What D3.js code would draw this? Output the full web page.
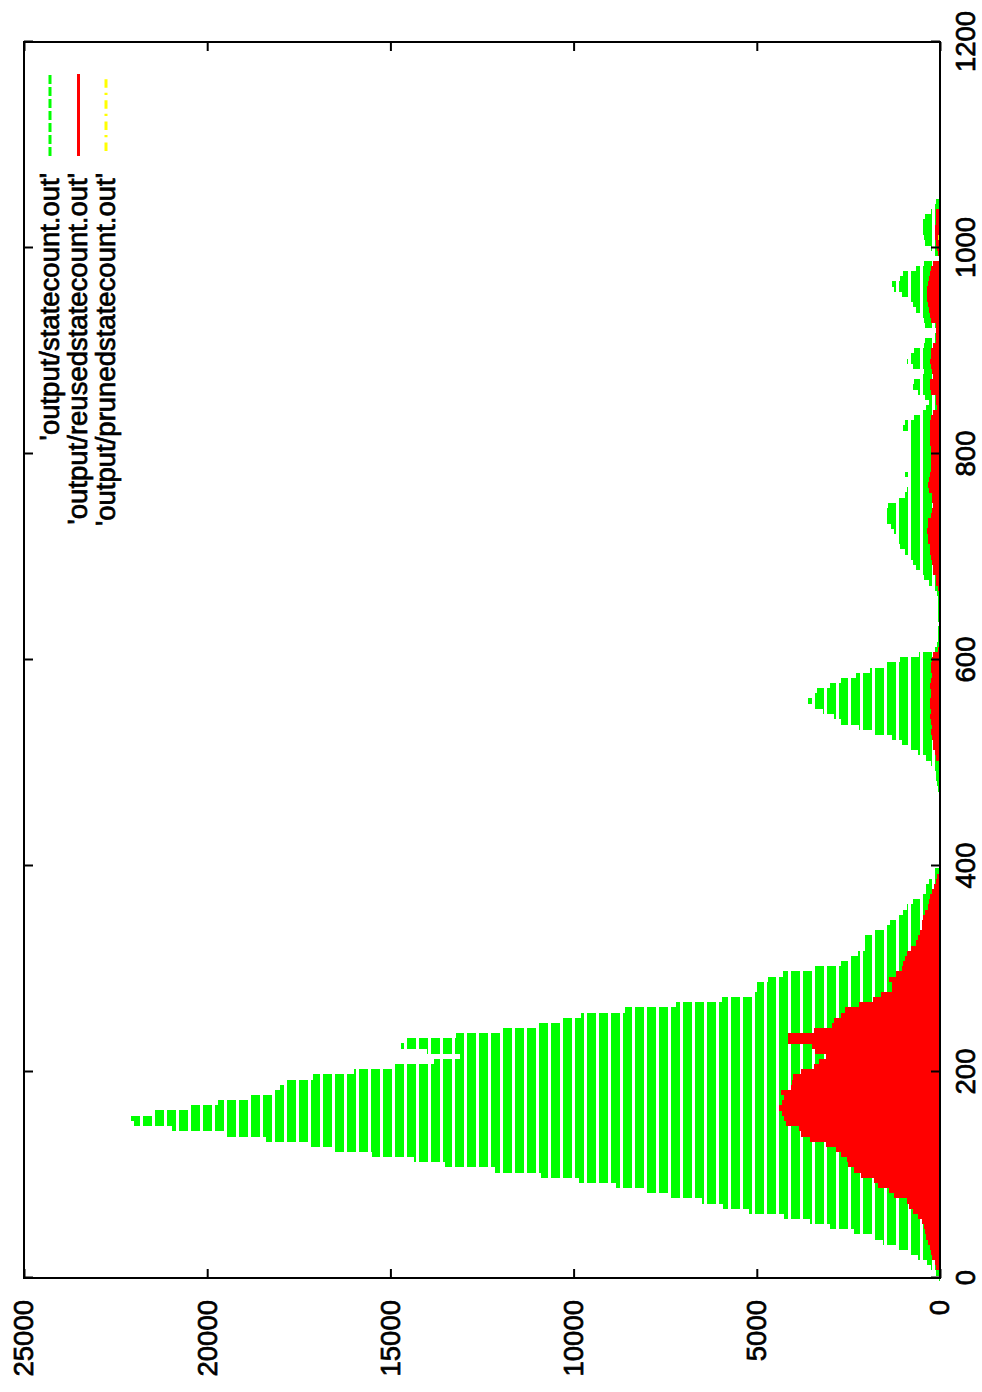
<!DOCTYPE html>
<html>
<head>
<meta charset="utf-8">
<script src="https://cdnjs.cloudflare.com/ajax/libs/d3/7.8.5/d3.min.js"></script>
<style>
body { margin: 0; background: #ffffff; }
svg text { font-family: "Liberation Sans", Arial, Helvetica, sans-serif; }
</style>
</head>
<body>
<svg id="chart" width="982" height="1392"></svg>
<script>

// one impulse every 5 steps
var step = 5;

var xValues = d3.range(0, 1050, step);

var stateCount = [
    20, 120, 250, 360, 600, 850, 1150, 1550, 1850, 2350,
    3000, 3550, 4250, 5200, 5930, 6500, 7400, 8000, 8850, 9850,
    10900, 12150, 13500, 14350, 15500, 16500, 17250, 18400, 19500, 20950,
    22000, 22100, 21500, 20500, 19700, 18900, 18200, 18000, 17900, 17100,
    16000, 14900, 13800, 13100, 14000, 14700, 14600, 13200, 12000, 10950,
    10350, 9800, 8600, 7200, 5950, 5050, 5000, 4990, 4700, 4280,
    3500, 2700, 2450, 2250, 2050, 2050, 2050, 1800, 1500, 1360,
    1200, 1020, 900, 730, 500, 380, 380, 300, 150, 140,
    0,
    0, 0, 0, 0, 0, 0, 0, 0, 0, 0, 0, 0, 0,
    30, 60, 80, 100, 120, 160, 250, 380, 600, 850,
    1050, 1300, 1800, 2200, 2700, 2900, 3200, 3400, 3600, 3500,
    3350, 3000, 2700, 2300, 1900, 1500, 1100, 560, 200, 80,
    60, 50, 50, 0, 50, 50, 50, 50, 60, 80,
    150, 300, 450, 550, 650, 750, 850, 950, 1100, 1150,
    1200, 1250, 1350, 1450, 1500, 1480, 1420, 1200, 950, 900,
    850, 850, 950, 850, 850, 800, 800, 820, 850, 800,
    850, 1000, 950, 700, 500, 380, 300, 420, 600, 750,
    720, 500, 450, 750, 900, 800, 720, 450, 420, 150,
    100, 400, 450, 500, 650, 750, 850, 1050, 1250, 1300,
    1100, 1000, 650, 450, 0, 150, 250, 400, 450, 480,
    500, 480, 420, 250, 150, 100
];

var reusedCount = [
    0, 30, 100, 150, 220, 250, 280, 330, 380, 420,
    450, 480, 600, 750, 850, 900, 1250, 1400, 1700, 1800,
    2150, 2350, 2500, 2550, 2700, 2850, 3100, 3550, 3800, 3850,
    4200, 4250, 4300, 4400, 4300, 4250, 4350, 4070, 4050, 4000,
    3800, 3450, 3300, 3100, 3400, 3500, 4150, 4150, 3450, 2950,
    2900, 2700, 2600, 2200, 1830, 1600, 1300, 1300, 1400, 1200,
    1050, 1010, 960, 900, 780, 660, 600, 540, 500, 480,
    460, 400, 330, 300, 270, 220, 175, 120, 80, 30,
    0, 0, 0, 0, 0, 0, 0, 0, 0, 0, 0,
    0, 0, 0, 0, 0, 0, 0, 0, 0, 0,
    100, 150, 180, 200, 220, 240, 230, 250, 270, 250,
    260, 280, 250, 240, 260, 250, 230, 250, 240, 210,
    180, 50,
    20, 20, 20, 20, 20, 20, 20, 20, 20, 20, 20,
    60, 100, 100, 180, 200, 210, 250, 270, 280, 330,
    340, 350, 340, 330, 250, 220, 200, 230, 220, 300,
    320, 310, 260, 250, 240, 250, 250, 240, 260, 270,
    280, 270, 260, 250, 200, 80, 100, 120, 250, 280,
    270, 200, 230, 250, 260, 250, 240, 180, 100, 100,
    100, 120, 250, 280, 300, 330, 360, 360, 350, 330,
    300, 280, 250, 200, 0, 50, 80, 100, 150, 150,
    140, 120, 120, 100, 40, 0
];

var prunedX = [1010];
var prunedCount = [60];

var xTicks = [0, 200, 400, 600, 800, 1000, 1200];
var yTicks = [0, 5000, 10000, 15000, 20000, 25000];

var legendLabels = ["'output/statecount.out'", "'output/reusedstatecount.out'", "'output/prunedstatecount.out'"];
var seriesColors = ['#00ff00', '#ff0000', '#ffff00'];

var fontSize = 27.5;

var svg = d3.select('#chart');

svg.append('rect')
    .attr('width', 982)
    .attr('height', 1392)
    .attr('fill', '#ffffff');

// the plot is drawn in landscape and turned a quarter turn, like the printed page
var g = svg.append('g')
    .attr('transform', 'translate(0,1392) rotate(-90)');

var x = d3.scaleLinear().domain([0, 1200]).range([114, 1350]);
var y = d3.scaleLinear().domain([0, 25000]).range([940, 24]);

var barW = x(step) - x(0) + 0.4;

function drawImpulses(xs, values, color, dash, offset){

    var pts = values.map(function(d, i){ return [xs[i], d]; })
        .filter(function(p){ return p[1] > 0; });

    g.append('g')
        .selectAll('line')
        .data(pts)
        .join('line')
        .attr('x1', function(p){ return x(p[0]); })
        .attr('x2', function(p){ return x(p[0]); })
        .attr('y1', y(0))
        .attr('y2', function(p){ return y(p[1]); })
        .attr('stroke', color)
        .attr('stroke-width', barW)
        .attr('stroke-dasharray', dash)
        .attr('stroke-dashoffset', offset)
        .attr('shape-rendering', 'crispEdges');
}

drawImpulses(xValues, stateCount, seriesColors[0], '9 3', 4);
drawImpulses(xValues, reusedCount, seriesColors[1], null, 0);
drawImpulses(prunedX, prunedCount, seriesColors[2], '8.5 5.3 2.3 5', 0);

function styleAxis(sel){
    sel.select('.domain').remove();
    sel.selectAll('.tick line')
        .attr('stroke', '#000')
        .attr('stroke-width', 2);
    sel.selectAll('.tick text')
        .attr('fill', '#000')
        .attr('stroke', '#000')
        .attr('stroke-width', 0.7)
        .style('font-size', fontSize + 'px');
}

g.append('g')
    .attr('transform', 'translate(0,' + y(0) + ')')
    .call(d3.axisBottom(x).tickValues(xTicks).tickSize(-9).tickSizeOuter(0).tickPadding(15).tickFormat(d3.format('d')))
    .call(styleAxis);

g.append('g')
    .attr('transform', 'translate(0,' + y(25000) + ')')
    .call(d3.axisTop(x).tickValues(xTicks).tickSize(-9).tickSizeOuter(0).tickFormat(''))
    .call(styleAxis);

g.append('g')
    .attr('transform', 'translate(' + x(0) + ',0)')
    .call(d3.axisLeft(y).tickValues(yTicks).tickSize(-9).tickSizeOuter(0).tickPadding(22).tickFormat(d3.format('d')))
    .call(styleAxis);

g.append('g')
    .attr('transform', 'translate(' + x(1200) + ',0)')
    .call(d3.axisRight(y).tickValues(yTicks).tickSize(-9).tickSizeOuter(0).tickFormat(''))
    .call(styleAxis);

// frame
g.append('rect')
    .attr('x', x(0))
    .attr('y', y(25000))
    .attr('width', x(1200) - x(0))
    .attr('height', y(0) - y(25000))
    .attr('fill', 'none')
    .attr('stroke', '#000')
    .attr('stroke-width', 2);

// key, top right of the landscape page
var legendRows = [50, 78.5, 106];
var legendDash = ['9 3', null, '8.5 5.3 2.3 5'];
var legendOffset = [0, 0, 16.1];

var legend = g.append('g');

legendLabels.forEach(function(label, i){

    legend.append('text')
        .attr('x', 1219)
        .attr('y', legendRows[i])
        .attr('dy', '0.32em')
        .attr('text-anchor', 'end')
        .attr('fill', '#000')
        .attr('stroke', '#000')
        .attr('stroke-width', 0.7)
        .style('font-size', fontSize + 'px')
        .text(label);

    legend.append('line')
        .attr('x1', 1236)
        .attr('x2', 1318)
        .attr('y1', legendRows[i])
        .attr('y2', legendRows[i])
        .attr('stroke', seriesColors[i])
        .attr('stroke-width', 3)
        .attr('stroke-dasharray', legendDash[i])
        .attr('stroke-dashoffset', legendOffset[i]);
});

</script>
</body>
</html>
